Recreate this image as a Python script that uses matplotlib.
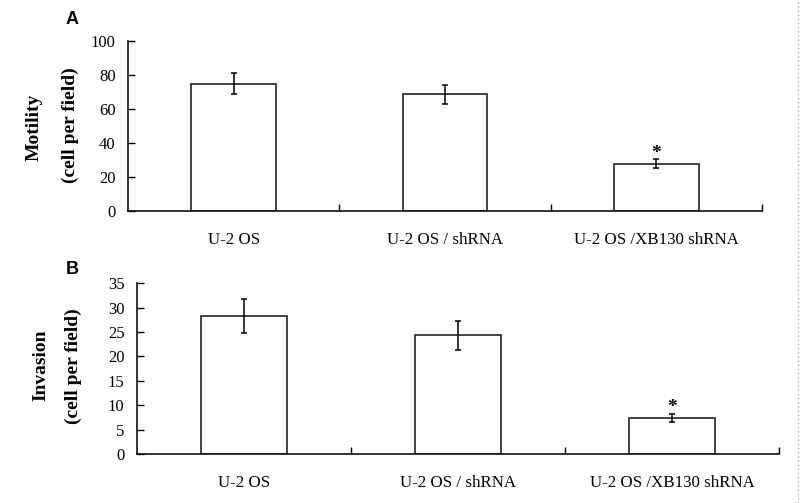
import matplotlib

matplotlib.use("Agg")
import matplotlib.pyplot as plt
from matplotlib.lines import Line2D

categories = ["U-2 OS", "U-2 OS / shRNA", "U-2 OS /XB130 shRNA"]

motility_mean = [74.9, 68.6, 27.8]
motility_err = [6.3, 5.7, 2.6]

invasion_mean = [28.3, 24.3, 7.4]
invasion_err = [3.45, 3.0, 0.9]

significant = [False, False, True]

SERIF = ["Liberation Serif", "DejaVu Serif"]
SANS = ["Liberation Sans", "DejaVu Sans"]


def draw_panel(ax, means, errs, ymax, ystep):
    """Bar chart with error bars in the old Excel style."""
    x = list(range(len(categories)))
    ax.bar(x, means, width=0.40, color="white", edgecolor="#222222",
           linewidth=1.2, zorder=2)
    ax.errorbar(x, means, yerr=errs, fmt="none", ecolor="black",
                elinewidth=1.1, capsize=2.2, capthick=1.1, zorder=3)
    for xi, m, e, sig in zip(x, means, errs, significant):
        if sig:
            ax.annotate("*", xy=(xi, m + e), xytext=(0, -2),
                        textcoords="offset points", ha="center", va="bottom",
                        fontsize=14, fontweight="bold", family=SERIF)

    ax.set_xlim(-0.5, len(categories) - 0.5)
    ax.set_ylim(0, ymax)
    ax.set_yticks(range(0, ymax + 1, ystep))
    ax.set_xticks([i + 0.5 for i in x])
    ax.set_xticklabels([])
    ax.set_xticks(x, minor=True)
    ax.set_xticklabels(categories, minor=True)
    ax.tick_params(axis="x", which="major", direction="in", length=5,
                   width=1.0)
    ax.tick_params(axis="x", which="minor", length=0, pad=15, labelsize=12.2)
    ax.tick_params(axis="y", direction="in", length=5, width=1.0, pad=9,
                   labelsize=12)
    for lbl in ax.get_xticklabels(minor=True) + ax.get_yticklabels():
        lbl.set_family(SERIF)
    for side in ("top", "right"):
        ax.spines[side].set_visible(False)
    for side in ("left", "bottom"):
        ax.spines[side].set_linewidth(1.2)
        ax.spines[side].set_color("#111111")


fig = plt.figure(figsize=(8.0, 5.03), dpi=100)

ax_a = fig.add_axes([0.16, 0.5805, 0.7925, 0.338])
draw_panel(ax_a, motility_mean, motility_err, 100, 20)

ax_b = fig.add_axes([0.17125, 0.0974, 0.8025, 0.3394])
draw_panel(ax_b, invasion_mean, invasion_err, 35, 5)

# y labels, two lines each
label_kw = dict(rotation=90, ha="center", va="center", fontsize=14,
                fontweight="bold", family=SERIF)
fig.text(34 / 800, 1 - 127 / 503, "Motility", **label_kw)
fig.text(70 / 800, 1 - 125 / 503, "(cell per field)", **label_kw)
fig.text(41 / 800, 1 - 365 / 503, "Invasion", **label_kw)
fig.text(73 / 800, 1 - 366 / 503, "(cell per field)", **label_kw)

# panel letters
fig.text(72 / 800, 1 - 20 / 503, "A", ha="center", va="center",
         fontsize=13, fontweight="bold", family=SANS)
fig.text(72 / 800, 1 - 270 / 503, "B", ha="center", va="center",
         fontsize=13, fontweight="bold", family=SANS)

# dotted page border on the right edge
fig.add_artist(Line2D([798 / 800, 798 / 800], [0, 1], transform=fig.transFigure,
                      color="#9bb59b", linewidth=1.0, linestyle=(0, (1, 2))))

fig.savefig("out.png", dpi=100, facecolor="white")
